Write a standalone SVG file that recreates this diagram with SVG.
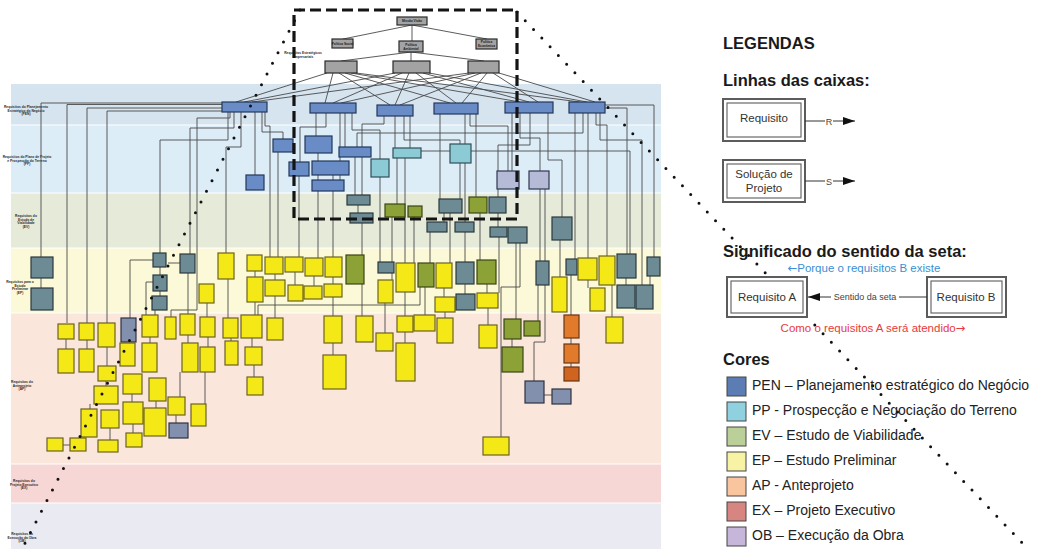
<svg xmlns="http://www.w3.org/2000/svg" width="1041" height="549" viewBox="0 0 1041 549">
<defs>
<style>
.band{stroke:none}
.sep{stroke:#ffffff;stroke-width:1}
.blbl{font-family:"Liberation Sans",Arial,sans-serif;font-size:3.3px;font-weight:bold;fill:#2a2a2a;text-anchor:middle}
.nd rect{stroke-width:1.2}
.top rect{fill:#a3a3a3;stroke:#2a2a2a}
.pen rect{fill:#6a8cc6;stroke:#23375c}
.pp rect{fill:#8ccad5;stroke:#2f4f57}
.lav rect{fill:#b5bbd7;stroke:#30384f}
.sl rect{fill:#6d8b94;stroke:#2b393c}
.ev rect{fill:#8ca237;stroke:#3b4514}
.ep rect{fill:#f4e817;stroke:#6a6320}
.gb rect{fill:#8390ad;stroke:#2d3344}
.ap rect{fill:#e27a2c;stroke:#6a3410}
.ap rect.dk{fill:#cf6420}
.nt{font-family:"Liberation Sans",Arial,sans-serif;font-size:3.2px;font-weight:bold;fill:#1a1a1a;text-anchor:middle}
.c{fill:none;stroke:#4a4a4a;stroke-width:0.9}
.frame{fill:none;stroke:#141414;stroke-width:3.2;stroke-dasharray:11 5}
.dots{fill:none;stroke:#111;stroke-width:3;stroke-dasharray:0 12;stroke-linecap:round}
.lg{font-family:"Liberation Sans",Arial,sans-serif;fill:#1a1a1a}
.h{font-size:16.5px;font-weight:bold}
.bx{fill:#fff;stroke:#5c5c5c;stroke-width:2}
.bxi{fill:none;stroke:#5c5c5c;stroke-width:1.1}
.bt{font-size:11.5px;text-anchor:middle;fill:#333}
.sm{font-size:9px;text-anchor:middle;fill:#444}
.blue{font-size:11.5px;text-anchor:middle;fill:#3a8fd4}
.red{font-size:11.5px;text-anchor:middle;fill:#e8393c}
.arr{font-family:"DejaVu Sans",sans-serif}
.al{fill:none;stroke:#333;stroke-width:1}
.sw{stroke:#444;stroke-width:1}
.ci{font-size:14px;fill:#222}
</style>
<marker id="ah" viewBox="0 0 12 8" markerWidth="12" markerHeight="8" refX="12" refY="4" orient="auto" markerUnits="userSpaceOnUse">
<path d="M0 0 L12 4 L0 8 z" fill="#111"/>
</marker>
</defs>
<rect width="1041" height="549" fill="#ffffff"/>

<!-- phase bands -->
<g id="bands">
<rect class="band" x="11" y="84" width="650" height="41" fill="#d6e4ef"/>
<rect class="band" x="11" y="125" width="650" height="68" fill="#dcedf7"/>
<rect class="band" x="11" y="193" width="650" height="55" fill="#e6ebd9"/>
<rect class="band" x="11" y="248" width="650" height="65" fill="#fcf9d8"/>
<rect class="band" x="11" y="313" width="650" height="151" fill="#fbe6dc"/>
<rect class="band" x="11" y="464" width="650" height="39" fill="#f7d6d6"/>
<rect class="band" x="11" y="503" width="650" height="46" fill="#eaeaf2"/>
<path class="sep" d="M11 125H661M11 193H661M11 248H661M11 313H661M11 464H661M11 503H661"/>
<text class="blbl"><tspan x="26" y="108">Requisitos do Planejamento</tspan><tspan x="26" y="111.5">Estratégico do Negócio</tspan><tspan x="26" y="115">(PEN)</tspan></text>
<text class="blbl"><tspan x="27" y="158">Requisitos do Plano de Projeto</tspan><tspan x="27" y="161.5">e Prospecção do Terreno</tspan><tspan x="27" y="165">(PP)</tspan></text>
<text class="blbl"><tspan x="26" y="217">Requisitos do</tspan><tspan x="26" y="220.5">Estudo de</tspan><tspan x="26" y="224">Viabilidade</tspan><tspan x="26" y="227.5">(EV)</tspan></text>
<text class="blbl"><tspan x="20" y="283">Requisitos para o</tspan><tspan x="20" y="286.5">Estudo</tspan><tspan x="20" y="290">Preliminar</tspan><tspan x="20" y="293.5">(EP)</tspan></text>
<text class="blbl"><tspan x="22" y="383">Requisitos do</tspan><tspan x="22" y="386.5">Anteprojeto</tspan><tspan x="22" y="390">(AP)</tspan></text>
<text class="blbl"><tspan x="24" y="482">Requisitos do</tspan><tspan x="24" y="485.5">Projeto Executivo</tspan><tspan x="24" y="489">(EX)</tspan></text>
<text class="blbl"><tspan x="22" y="535">Requisitos da</tspan><tspan x="22" y="538.5">Execução da Obra</tspan><tspan x="22" y="542">(OB)</tspan></text>
<text class="blbl"><tspan x="303" y="54">Requisitos Estratégicos</tspan><tspan x="303" y="57.5">Empresariais</tspan></text>
</g>

<!-- connectors -->
<g id="connectors">
<path class="c" d="M412 25L343 39M412 25V41M412 25L487 39M411 52L341 61M411 52V61M411 52L484 61"/>
<path class="c" d="M327 73L236 102M333 73L325 103M339 73L390 105M345 73L450 103M351 73L520 102M356 73L580 102"/>
<path class="c" d="M395 73L244 102M402 73L333 103M409 73L395 105M416 73L456 103M423 73L529 102M429 73L587 102"/>
<path class="c" d="M469 73L252 102M475 73L341 103M481 73L400 105M487 73L462 103M493 73L538 102M499 73L595 102"/>
<path class="c" d="M41 257V103H222M67 323V104.5H222M87 323V108H222M107 323V111H222M41 278V288"/>
<path class="c" d="M160 253V140H228V112M190 254V128H234V112M226 253V147H241V112M255 175V112M262 112V132H283V139M265 112V126H270V257M230 112V118H197V310H171V317"/>
<path class="c" d="M316 113V136M326 113V127H300V162M345 113V147M352 113V130H380V159M340 113V180"/>
<path class="c" d="M395 116V148M404 116V140H460V144M384 116V124H362V195M410 116V151H630V254"/>
<path class="c" d="M440 114V199M465 114V262M470 114V126H508V171M476 114V197"/>
<path class="c" d="M512 113V171M520 113V138H540V171M530 113V145H498V197M548 113V160H562V217M583 113V133H357V147"/>
<path class="c" d="M575 113V259M588 113V258M596 113V125H607V256M605 108H627V254M605 105H654V257M600 113V140H642V285"/>
<path class="c" d="M278 152V257M299 176V257M318 175V258M333 175V257M318 153V161M355 157V195M380 177V262M405 158V263M397 158V204M460 163V199"/>
<path class="c" d="M358 205V213M362 223V255M392 217V280M414 217V263M444 213V222M450 213V263M480 213V260M498 213V227M430 232V263M499 237V293M516 243V319M560 240V277M540 189V261"/>
<path class="c" d="M255 271V277M255 302V315M275 274V280M275 296V318M295 272V285M314 276V286M333 277V284M333 297V316M362 284V316M385 303V333M405 292V316M425 287V315M444 288V297M465 284V294M487 284V293M445 312V318M488 308V325"/>
<path class="c" d="M538 285V321M571 275V315M571 338V344M571 363V367M588 280V288M612 285V317M626 278V285M650 276V285M545 189V342H534V381M544 395H552M501 437V287H520V243M420 287V305H258V315"/>
<path class="c" d="M333 343V355M252 338V347M254 365V377M405 332V343M512 339V347"/>
<path class="c" d="M66 339V349M87 340V349M107 347V366M150 337V343M188 335V343M208 337V347M106 381V386M132 394V402M156 401V408M90 404V409M63 445H70M110 428V440M133 424V433M205 372V404M180 372V397M231 338V341M176 415V423"/>
<path class="c" d="M188 273V314M207 303V317M228 279V318M153 260H130V318M153 282H146V315M155 310V315M160 267V275M160 291V296M168 263H180"/>
</g>

<!-- strategic top level -->
<g id="n-missao" class="nd top"><rect x="397" y="17" width="30" height="8"/><text class="nt" x="412" y="22.3">Missão Visão</text></g>
<g id="n-pol-social" class="nd top"><rect x="332" y="39" width="21" height="9"/><text class="nt" x="342.5" y="44.5">Política Social</text></g>
<g id="n-pol-ambiental" class="nd top"><rect x="399" y="41" width="24" height="11"/><text class="nt"><tspan x="411" y="45.5">Política</tspan><tspan x="411" y="49.5">Ambiental</tspan></text></g>
<g id="n-pol-economica" class="nd top"><rect x="476" y="39" width="21" height="10"/><text class="nt"><tspan x="486.5" y="43.3">Política</tspan><tspan x="486.5" y="47.3">Econômica</tspan></text></g>
<g id="n-obj1" class="nd top"><rect x="325" y="61" width="32" height="12"/></g>
<g id="n-obj2" class="nd top"><rect x="393" y="61" width="37" height="12"/></g>
<g id="n-obj3" class="nd top"><rect x="468" y="61" width="31" height="12"/></g>

<!-- PEN -->
<g id="n-pen1" class="nd pen"><rect x="222" y="102" width="45" height="10"/></g>
<g id="n-pen2" class="nd pen"><rect x="310" y="103" width="46" height="10"/></g>
<g id="n-pen3" class="nd pen"><rect x="377" y="105" width="36" height="11"/></g>
<g id="n-pen4" class="nd pen"><rect x="434" y="103" width="44" height="11"/></g>
<g id="n-pen5" class="nd pen"><rect x="505" y="102" width="48" height="11"/></g>
<g id="n-pen6" class="nd pen"><rect x="569" y="102" width="36" height="11"/></g>

<!-- PP -->
<g id="n-pp1" class="nd pen"><rect x="273" y="139" width="20" height="13"/></g>
<g id="n-pp2" class="nd pen"><rect x="305" y="136" width="27" height="17"/></g>
<g id="n-pp3" class="nd pen"><rect x="339" y="147" width="32" height="10"/></g>
<g id="n-pp4" class="nd pen"><rect x="289" y="162" width="20" height="14"/></g>
<g id="n-pp5" class="nd pen"><rect x="312" y="161" width="37" height="14"/></g>
<g id="n-pp6" class="nd pen"><rect x="312" y="180" width="32" height="11"/></g>
<g id="n-pp7" class="nd pen"><rect x="246" y="175" width="18" height="15"/></g>
<g id="n-pp8" class="nd pp"><rect x="371" y="159" width="18" height="18"/></g>
<g id="n-pp9" class="nd pp"><rect x="393" y="148" width="28" height="10"/></g>
<g id="n-pp10" class="nd pp"><rect x="450" y="144" width="21" height="19"/></g>
<g id="n-pp11" class="nd lav"><rect x="497" y="171" width="22" height="18"/></g>
<g id="n-pp12" class="nd lav"><rect x="529" y="171" width="20" height="18"/></g>

<!-- EV -->
<g id="n-ev1" class="nd sl"><rect x="347" y="195" width="23" height="10"/></g>
<g id="n-ev2" class="nd sl"><rect x="350" y="213" width="23" height="10"/></g>
<g id="n-ev3" class="nd ev"><rect x="385" y="204" width="20" height="13"/></g>
<g id="n-ev4" class="nd ev"><rect x="408" y="206" width="14" height="11"/></g>
<g id="n-ev5" class="nd sl"><rect x="439" y="199" width="23" height="14"/></g>
<g id="n-ev6" class="nd ev"><rect x="469" y="197" width="18" height="16"/></g>
<g id="n-ev7" class="nd sl"><rect x="489" y="197" width="17" height="16"/></g>
<g id="n-ev8" class="nd sl"><rect x="427" y="222" width="20" height="10"/></g>
<g id="n-ev9" class="nd sl"><rect x="455" y="222" width="19" height="10"/></g>
<g id="n-ev10" class="nd sl"><rect x="490" y="227" width="17" height="10"/></g>
<g id="n-ev11" class="nd sl"><rect x="508" y="227" width="19" height="16"/></g>
<g id="n-ev12" class="nd sl"><rect x="552" y="217" width="20" height="23"/></g>

<!-- EP -->
<g id="n-ep1" class="nd sl"><rect x="31" y="257" width="22" height="21"/></g>
<g id="n-ep2" class="nd sl"><rect x="31" y="288" width="22" height="22"/></g>
<g id="n-ep3" class="nd sl"><rect x="153" y="253" width="13" height="14"/></g>
<g id="n-ep4" class="nd sl"><rect x="153" y="275" width="14" height="16"/></g>
<g id="n-ep5" class="nd sl"><rect x="152" y="296" width="15" height="14"/></g>
<g id="n-ep6" class="nd sl"><rect x="180" y="254" width="15" height="19"/></g>
<g id="n-ep7" class="nd ep"><rect x="218" y="253" width="16" height="26"/></g>
<g id="n-ep8" class="nd ep"><rect x="199" y="284" width="15" height="19"/></g>
<g id="n-ep9" class="nd ep"><rect x="247" y="255" width="15" height="16"/></g>
<g id="n-ep10" class="nd ep"><rect x="247" y="277" width="16" height="25"/></g>
<g id="n-ep11" class="nd ep"><rect x="265" y="257" width="18" height="17"/></g>
<g id="n-ep12" class="nd ep"><rect x="265" y="280" width="20" height="16"/></g>
<g id="n-ep13" class="nd ep"><rect x="285" y="257" width="18" height="15"/></g>
<g id="n-ep14" class="nd ep"><rect x="288" y="285" width="15" height="16"/></g>
<g id="n-ep15" class="nd ep"><rect x="305" y="258" width="18" height="18"/></g>
<g id="n-ep16" class="nd ep"><rect x="304" y="286" width="18" height="13"/></g>
<g id="n-ep17" class="nd ep"><rect x="325" y="257" width="17" height="20"/></g>
<g id="n-ep18" class="nd ep"><rect x="324" y="284" width="18" height="13"/></g>
<g id="n-ep19" class="nd ev"><rect x="346" y="255" width="18" height="29"/></g>
<g id="n-ep20" class="nd sl"><rect x="378" y="262" width="16" height="11"/></g>
<g id="n-ep21" class="nd ep"><rect x="378" y="280" width="15" height="23"/></g>
<g id="n-ep22" class="nd ep"><rect x="396" y="263" width="19" height="29"/></g>
<g id="n-ep23" class="nd ev"><rect x="418" y="263" width="16" height="24"/></g>
<g id="n-ep24" class="nd ep"><rect x="436" y="263" width="16" height="25"/></g>
<g id="n-ep25" class="nd sl"><rect x="456" y="262" width="18" height="22"/></g>
<g id="n-ep26" class="nd ev"><rect x="477" y="260" width="19" height="24"/></g>
<g id="n-ep27" class="nd ep"><rect x="435" y="297" width="20" height="15"/></g>
<g id="n-ep28" class="nd sl"><rect x="456" y="294" width="19" height="16"/></g>
<g id="n-ep29" class="nd ep"><rect x="477" y="293" width="21" height="15"/></g>
<g id="n-ep30" class="nd sl"><rect x="536" y="261" width="13" height="24"/></g>
<g id="n-ep31" class="nd ep"><rect x="552" y="277" width="15" height="35"/></g>
<g id="n-ep32" class="nd sl"><rect x="566" y="259" width="11" height="16"/></g>
<g id="n-ep33" class="nd ep"><rect x="578" y="258" width="19" height="22"/></g>
<g id="n-ep34" class="nd ep"><rect x="590" y="288" width="15" height="23"/></g>
<g id="n-ep35" class="nd ep"><rect x="599" y="256" width="16" height="29"/></g>
<g id="n-ep36" class="nd sl"><rect x="617" y="254" width="19" height="24"/></g>
<g id="n-ep37" class="nd sl"><rect x="617" y="285" width="18" height="23"/></g>
<g id="n-ep38" class="nd sl"><rect x="636" y="285" width="17" height="24"/></g>
<g id="n-ep39" class="nd sl"><rect x="647" y="257" width="13" height="19"/></g>

<!-- AP -->
<g id="n-ap1" class="nd ep"><rect x="58" y="324" width="16" height="15"/></g>
<g id="n-ap2" class="nd ep"><rect x="79" y="323" width="15" height="17"/></g>
<g id="n-ap3" class="nd ep"><rect x="98" y="323" width="17" height="24"/></g>
<g id="n-ap4" class="nd ep"><rect x="58" y="349" width="16" height="24"/></g>
<g id="n-ap5" class="nd ep"><rect x="79" y="349" width="15" height="23"/></g>
<g id="n-ap6" class="nd gb"><rect x="121" y="318" width="15" height="24"/></g>
<g id="n-ap7" class="nd ep"><rect x="142" y="315" width="16" height="22"/></g>
<g id="n-ap8" class="nd ep"><rect x="120" y="343" width="15" height="23"/></g>
<g id="n-ap9" class="nd ep"><rect x="142" y="343" width="15" height="29"/></g>
<g id="n-ap10" class="nd ep"><rect x="165" y="317" width="11" height="22"/></g>
<g id="n-ap11" class="nd ep"><rect x="180" y="314" width="15" height="21"/></g>
<g id="n-ap12" class="nd ep"><rect x="182" y="343" width="16" height="29"/></g>
<g id="n-ap13" class="nd ep"><rect x="200" y="317" width="15" height="20"/></g>
<g id="n-ap14" class="nd ep"><rect x="200" y="347" width="15" height="25"/></g>
<g id="n-ap15" class="nd ep"><rect x="223" y="318" width="15" height="20"/></g>
<g id="n-ap16" class="nd ep"><rect x="225" y="341" width="13" height="24"/></g>
<g id="n-ap17" class="nd ep"><rect x="98" y="366" width="18" height="15"/></g>
<g id="n-ap18" class="nd ep"><rect x="123" y="374" width="19" height="20"/></g>
<g id="n-ap19" class="nd ep"><rect x="94" y="386" width="24" height="18"/></g>
<g id="n-ap20" class="nd ep"><rect x="149" y="378" width="17" height="23"/></g>
<g id="n-ap21" class="nd ep"><rect x="168" y="397" width="17" height="18"/></g>
<g id="n-ap22" class="nd ep"><rect x="191" y="404" width="15" height="22"/></g>
<g id="n-ap23" class="nd ep"><rect x="81" y="409" width="16" height="28"/></g>
<g id="n-ap24" class="nd ep"><rect x="101" y="410" width="18" height="18"/></g>
<g id="n-ap25" class="nd ep"><rect x="123" y="402" width="20" height="22"/></g>
<g id="n-ap26" class="nd ep"><rect x="144" y="408" width="22" height="28"/></g>
<g id="n-ap27" class="nd ep"><rect x="47" y="438" width="16" height="13"/></g>
<g id="n-ap28" class="nd ep"><rect x="70" y="438" width="16" height="13"/></g>
<g id="n-ap29" class="nd ep"><rect x="98" y="440" width="20" height="12"/></g>
<g id="n-ap30" class="nd ep"><rect x="126" y="433" width="16" height="14"/></g>
<g id="n-ap31" class="nd gb"><rect x="169" y="423" width="19" height="15"/></g>
<g id="n-ap32" class="nd ep"><rect x="241" y="315" width="21" height="23"/></g>
<g id="n-ap33" class="nd ep"><rect x="267" y="318" width="16" height="22"/></g>
<g id="n-ap34" class="nd ep"><rect x="245" y="347" width="17" height="18"/></g>
<g id="n-ap35" class="nd ep"><rect x="247" y="377" width="16" height="18"/></g>
<g id="n-ap36" class="nd ep"><rect x="324" y="316" width="18" height="27"/></g>
<g id="n-ap37" class="nd ep"><rect x="323" y="355" width="23" height="34"/></g>
<g id="n-ap38" class="nd ep"><rect x="356" y="316" width="17" height="26"/></g>
<g id="n-ap39" class="nd ep"><rect x="376" y="333" width="17" height="18"/></g>
<g id="n-ap40" class="nd ep"><rect x="397" y="316" width="16" height="16"/></g>
<g id="n-ap41" class="nd ep"><rect x="396" y="343" width="19" height="38"/></g>
<g id="n-ap42" class="nd ep"><rect x="414" y="315" width="21" height="16"/></g>
<g id="n-ap43" class="nd ep"><rect x="437" y="318" width="16" height="25"/></g>
<g id="n-ap44" class="nd ep"><rect x="479" y="325" width="18" height="23"/></g>
<g id="n-ap45" class="nd ev"><rect x="504" y="319" width="17" height="20"/></g>
<g id="n-ap46" class="nd ev"><rect x="502" y="347" width="21" height="25"/></g>
<g id="n-ap47" class="nd ev"><rect x="524" y="321" width="16" height="15"/></g>
<g id="n-ap48" class="nd ap"><rect x="564" y="315" width="15" height="23"/></g>
<g id="n-ap49" class="nd ap"><rect x="564" y="344" width="15" height="19"/></g>
<g id="n-ap50" class="nd ap"><rect class="dk" x="564" y="367" width="15" height="14"/></g>
<g id="n-ap51" class="nd gb"><rect x="525" y="381" width="19" height="22"/></g>
<g id="n-ap52" class="nd gb"><rect x="552" y="389" width="19" height="15"/></g>
<g id="n-ap53" class="nd ep"><rect x="606" y="317" width="17" height="26"/></g>
<g id="n-ap54" class="nd ep"><rect x="483" y="437" width="26" height="18"/></g>

<!-- detail frame and its projection lines -->
<g id="detail-frame">
<rect class="frame" x="294" y="10" width="223" height="209"/>
<path class="dots" d="M300 10L22 549"/>
<path class="dots" d="M517 12L1028 549"/>
</g>

<!-- legend -->
<g id="legend" class="lg">
<text class="lg h" x="723" y="49">LEGENDAS</text>
<text class="lg h" x="723" y="86">Linhas das caixas:</text>
<g id="lg-requisito">
<rect class="bx" x="723" y="99" width="82" height="42"/>
<rect class="bxi" x="727" y="103" width="74" height="34"/>
<text class="lg bt" x="764" y="122">Requisito</text>
<path class="al" d="M805 121H825"/>
<text class="lg sm" x="829" y="124.5">R</text>
<path class="al" d="M833 121H855" marker-end="url(#ah)"/>
</g>
<g id="lg-solucao">
<rect class="bx" x="723" y="160" width="82" height="42"/>
<rect class="bxi" x="727" y="164" width="74" height="34"/>
<text class="lg bt"><tspan x="764" y="178">Solução de</tspan><tspan x="764" y="192">Projeto</tspan></text>
<path class="al" d="M805 181H825"/>
<text class="lg sm" x="829" y="184.5">S</text>
<path class="al" d="M833 181H855" marker-end="url(#ah)"/>
</g>
<text class="lg h" x="723" y="257">Significado do sentido da seta:</text>
<text class="lg blue" x="864" y="272"><tspan class="arr">←</tspan>Porque o requisitos B existe</text>
<g id="lg-req-a">
<rect class="bx" x="727" y="277" width="80" height="40"/>
<rect class="bxi" x="731" y="281" width="72" height="32"/>
<text class="lg bt" x="767" y="301">Requisito A</text>
</g>
<g id="lg-req-b">
<rect class="bx" x="927" y="277" width="79" height="40"/>
<rect class="bxi" x="931" y="281" width="71" height="32"/>
<text class="lg bt" x="966" y="301">Requisito B</text>
</g>
<path class="al" d="M927 297H899"/>
<text class="lg sm" x="865" y="300">Sentido da seta</text>
<path class="al" d="M831 297H808" marker-end="url(#ah)"/>
<text class="lg red" x="873" y="332">Como o requisitos A será atendido<tspan class="arr">→</tspan></text>
<text class="lg h" x="723" y="365">Cores</text>
<rect class="sw" x="727" y="377" width="19" height="19" fill="#5b7db3"/>
<text class="lg ci" x="752" y="390">PEN – Planejamento estratégico do Negócio</text>
<rect class="sw" x="727" y="402" width="19" height="19" fill="#8fd1df"/>
<text class="lg ci" x="752" y="415">PP - Prospecção e Negociação do Terreno</text>
<rect class="sw" x="727" y="427" width="19" height="19" fill="#bad098"/>
<text class="lg ci" x="752" y="440">EV – Estudo de Viabilidade</text>
<rect class="sw" x="727" y="452" width="19" height="19" fill="#f8f2a4"/>
<text class="lg ci" x="752" y="465">EP – Estudo Preliminar</text>
<rect class="sw" x="727" y="477" width="19" height="19" fill="#f8c59e"/>
<text class="lg ci" x="752" y="490">AP - Anteprojeto</text>
<rect class="sw" x="727" y="502" width="19" height="19" fill="#d78580"/>
<text class="lg ci" x="752" y="515">EX – Projeto Executivo</text>
<rect class="sw" x="727" y="527" width="19" height="19" fill="#c6b6da"/>
<text class="lg ci" x="752" y="540">OB – Execução da Obra</text>
</g>
</svg>
